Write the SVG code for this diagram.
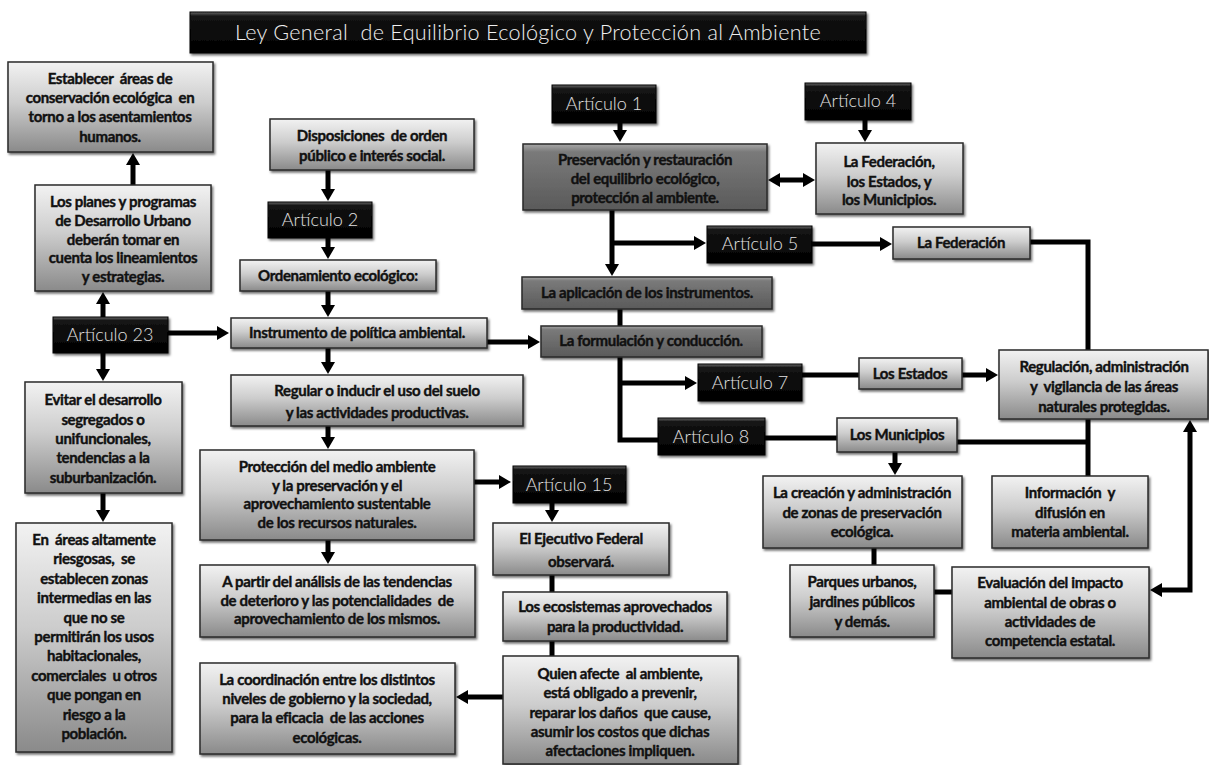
<svg xmlns="http://www.w3.org/2000/svg" width="1209" height="765" viewBox="0 0 1209 765">
<defs>
<linearGradient id="gL" x1="0" y1="0" x2="0" y2="1"><stop offset="0" stop-color="#f2f2f2"/><stop offset="0.45" stop-color="#cdcdcd"/><stop offset="1" stop-color="#8a8a8a"/></linearGradient>
<linearGradient id="gD" x1="0" y1="0" x2="0" y2="1"><stop offset="0" stop-color="#a8a8a8"/><stop offset="0.12" stop-color="#7a7a7a"/><stop offset="1" stop-color="#5a5a5a"/></linearGradient>
<linearGradient id="gB" x1="0" y1="0" x2="0" y2="1"><stop offset="0" stop-color="#6a6a6a"/><stop offset="0.1" stop-color="#141414"/><stop offset="1" stop-color="#000"/></linearGradient>
<filter id="sh" x="-10%" y="-10%" width="125%" height="130%"><feDropShadow dx="1.5" dy="2" stdDeviation="1.2" flood-color="#000" flood-opacity="0.55"/></filter>
<marker id="ar" viewBox="0 0 12 14" markerWidth="12" markerHeight="14" refX="1" refY="7" orient="auto-start-reverse" markerUnits="userSpaceOnUse"><path d="M0,0 L12,7 L0,14 z" fill="#000"/></marker>
<style>
.bx{fill:url(#gL);stroke:#2a2a2a;stroke-width:1.5;filter:url(#sh)}
.dk{fill:url(#gD);stroke:#2a2a2a;stroke-width:1.5;filter:url(#sh)}
.bk{fill:url(#gB);stroke:#000;stroke-width:1;filter:url(#sh)}
.t{font-family:Lato,"Open Sans",sans-serif;font-weight:700;font-size:15px;fill:#111;stroke:#111;stroke-width:0.4px;text-anchor:middle;letter-spacing:-0.35px;white-space:pre}
.a{font-family:Lato,"Open Sans",sans-serif;font-weight:300;font-size:18px;fill:#e0e0e0;text-anchor:middle}
.ti{font-family:Lato,"Open Sans",sans-serif;font-weight:300;font-size:21.6px;fill:#f0f0f0;text-anchor:middle;letter-spacing:0.3px;white-space:pre}
.c{fill:none;stroke:#000;stroke-width:5}
.c.m{marker-end:url(#ar)}
</style>
</defs>
<rect width="1209" height="765" fill="#fff"/>

<g id="connectors">
<path class="c m" d="M133,185 V164"/>
<path class="c m" d="M103,317 V303"/>
<path class="c m" d="M168,333 H218"/>
<path class="c m" d="M103,353 V370"/>
<path class="c m" d="M103,493 V511"/>
<path class="c m" d="M328,170 V190"/>
<path class="c m" d="M328,238 V248"/>
<path class="c m" d="M328,291 V306"/>
<path class="c m" d="M328,348 V363"/>
<path class="c m" d="M328,426 V438"/>
<path class="c m" d="M328,540 V553"/>
<path class="c m" d="M474,482 H500"/>
<path class="c m" d="M552,503 V511"/>
<path class="c" d="M552,575 V592"/>
<path class="c" d="M552,641 V656"/>
<path class="c m" d="M503,697 H467"/>
<path class="c m" d="M487,342 H529"/>
<path class="c m" d="M620,123 V131"/>
<path class="c m" d="M779,180 H804" marker-start="url(#ar)"/>
<path class="c m" d="M865,120 V131"/>
<path class="c m" d="M612,210 V265"/>
<path class="c m" d="M612,243 H695"/>
<path class="c m" d="M812,244 H881"/>
<path class="c" d="M1030,242 H1088 V350"/>
<path class="c" d="M620,309 V326"/>
<path class="c" d="M620,357 V440 H658"/>
<path class="c m" d="M620,383 H686"/>
<path class="c" d="M802,375 H859"/>
<path class="c m" d="M962,375 H987"/>
<path class="c" d="M765,438 H837"/>
<path class="c" d="M957,442 H1088"/>
<path class="c" d="M1088,419 V476"/>
<path class="c m" d="M895,452 V464"/>
<path class="c" d="M874,548 V565"/>
<path class="c" d="M934,592 H952"/>
<path class="c m" d="M1161,590 H1190 V431" marker-start="url(#ar)"/>
</g>

<g id="title"><rect class="bk" x="190" y="12" width="676" height="41"/><text class="ti" x="528" y="40">Ley General  de Equilibrio Ecológico y Protección al Ambiente</text></g>

<g id="n-establecer"><rect class="bx" x="8" y="62" width="205" height="90"/><text class="t"><tspan x="110" y="84">Establecer  áreas de</tspan><tspan x="110" y="103">conservación ecológica  en</tspan><tspan x="110" y="122">torno a los asentamientos</tspan><tspan x="110" y="142">humanos.</tspan></text></g>

<g id="n-planes"><rect class="bx" x="35" y="185" width="176" height="106"/><text class="t"><tspan x="123" y="207">Los planes y programas</tspan><tspan x="123" y="226">de Desarrollo Urbano</tspan><tspan x="123" y="245">deberán tomar en</tspan><tspan x="123" y="263">cuenta los lineamientos</tspan><tspan x="123" y="282">y estrategias.</tspan></text></g>

<g id="n-art23"><rect class="bk" x="53" y="317" width="115" height="36"/><text class="a" x="110" y="341">Artículo 23</text></g>

<g id="n-evitar"><rect class="bx" x="25" y="382" width="157" height="111"/><text class="t"><tspan x="103" y="405">Evitar el desarrollo</tspan><tspan x="103" y="425">segregados o</tspan><tspan x="103" y="444">unifuncionales,</tspan><tspan x="103" y="463">tendencias a la</tspan><tspan x="103" y="483">suburbanización.</tspan></text></g>

<g id="n-areas"><rect class="bx" x="16" y="523" width="156" height="229"/><text class="t"><tspan x="94" y="545">En  áreas altamente</tspan><tspan x="94" y="564">riesgosas,  se</tspan><tspan x="94" y="584">establecen zonas</tspan><tspan x="94" y="603">intermedias en las</tspan><tspan x="94" y="623">que no se</tspan><tspan x="94" y="642">permitirán los usos</tspan><tspan x="94" y="661">habitacionales,</tspan><tspan x="94" y="681">comerciales  u otros</tspan><tspan x="94" y="700">que pongan en</tspan><tspan x="94" y="720">riesgo a la</tspan><tspan x="94" y="739">población.</tspan></text></g>

<g id="n-disposiciones"><rect class="bx" x="270" y="119" width="204" height="51"/><text class="t"><tspan x="372" y="141">Disposiciones  de orden</tspan><tspan x="372" y="161">público e interés social.</tspan></text></g>

<g id="n-art2"><rect class="bk" x="268" y="202" width="104" height="36"/><text class="a" x="320" y="226">Artículo 2</text></g>

<g id="n-ordenamiento"><rect class="bx" x="240" y="260" width="196" height="31"/><text class="t" x="338" y="281">Ordenamiento ecológico:</text></g>

<g id="n-instrumento"><rect class="bx" x="231" y="318" width="256" height="30"/><text class="t" x="357" y="338">Instrumento de política ambiental.</text></g>

<g id="n-regular"><rect class="bx" x="231" y="375" width="292" height="51"/><text class="t"><tspan x="377" y="396">Regular o inducir el uso del suelo</tspan><tspan x="377" y="418">y las actividades productivas.</tspan></text></g>

<g id="n-proteccion"><rect class="bx" x="200" y="450" width="274" height="90"/><text class="t"><tspan x="337" y="472">Protección del medio ambiente</tspan><tspan x="337" y="491">y la preservación y el</tspan><tspan x="337" y="509">aprovechamiento sustentable</tspan><tspan x="337" y="528">de los recursos naturales.</tspan></text></g>

<g id="n-apartir"><rect class="bx" x="200" y="565" width="275" height="72"/><text class="t"><tspan x="337" y="587">A partir del análisis de las tendencias</tspan><tspan x="337" y="606">de deterioro y las potencialidades  de</tspan><tspan x="337" y="624">aprovechamiento de los mismos.</tspan></text></g>

<g id="n-coordinacion"><rect class="bx" x="200" y="663" width="255" height="91"/><text class="t"><tspan x="327" y="685">La coordinación entre los distintos</tspan><tspan x="327" y="704">niveles de gobierno y la sociedad,</tspan><tspan x="327" y="723">para la eficacia  de las acciones</tspan><tspan x="327" y="743">ecológicas.</tspan></text></g>

<g id="n-art15"><rect class="bk" x="513" y="466" width="113" height="37"/><text class="a" x="569" y="491">Artículo 15</text></g>

<g id="n-ejecutivo"><rect class="bx" x="493" y="523" width="176" height="52"/><text class="t"><tspan x="581" y="544">El Ejecutivo Federal</tspan><tspan x="581" y="567">observará.</tspan></text></g>

<g id="n-ecosistemas"><rect class="bx" x="503" y="592" width="224" height="49"/><text class="t"><tspan x="615" y="612">Los ecosistemas aprovechados</tspan><tspan x="615" y="632">para la productividad.</tspan></text></g>

<g id="n-quien"><rect class="bx" x="503" y="656" width="235" height="108"/><text class="t"><tspan x="620" y="679">Quien afecte  al ambiente,</tspan><tspan x="620" y="698">está obligado a prevenir,</tspan><tspan x="620" y="718">reparar los daños  que cause,</tspan><tspan x="620" y="737">asumir los costos que dichas</tspan><tspan x="620" y="756">afectaciones impliquen.</tspan></text></g>

<g id="n-art1"><rect class="bk" x="552" y="85" width="104" height="38"/><text class="a" x="604" y="110">Artículo 1</text></g>

<g id="n-preservacion"><rect class="dk" x="523" y="144" width="244" height="66"/><text class="t"><tspan x="645" y="165">Preservación y restauración</tspan><tspan x="645" y="184">del equilibrio ecológico,</tspan><tspan x="645" y="203">protección al ambiente.</tspan></text></g>

<g id="n-art4"><rect class="bk" x="805" y="83" width="106" height="37"/><text class="a" x="858" y="107">Artículo 4</text></g>

<g id="n-federacion-estados"><rect class="bx" x="816" y="143" width="147" height="71"/><text class="t"><tspan x="889" y="167">La Federación,</tspan><tspan x="889" y="187">los Estados, y</tspan><tspan x="889" y="205">los Municipios.</tspan></text></g>

<g id="n-art5"><rect class="bk" x="707" y="226" width="105" height="37"/><text class="a" x="760" y="250">Artículo 5</text></g>

<g id="n-federacion"><rect class="bx" x="893" y="227" width="137" height="32"/><text class="t" x="961" y="248">La Federación</text></g>

<g id="n-aplicacion"><rect class="dk" x="522" y="277" width="250" height="32"/><text class="t" x="647" y="298">La aplicación de los instrumentos.</text></g>

<g id="n-formulacion"><rect class="dk" x="541" y="326" width="221" height="31"/><text class="t" x="651" y="346">La formulación y conducción.</text></g>

<g id="n-art7"><rect class="bk" x="698" y="364" width="104" height="37"/><text class="a" x="750" y="389">Artículo 7</text></g>

<g id="n-estados"><rect class="bx" x="859" y="358" width="103" height="31"/><text class="t" x="910" y="379">Los Estados</text></g>

<g id="n-regulacion"><rect class="bx" x="999" y="350" width="209" height="69"/><text class="t"><tspan x="1104" y="372">Regulación, administración</tspan><tspan x="1104" y="392">y  vigilancia de las áreas</tspan><tspan x="1104" y="412">naturales protegidas.</tspan></text></g>

<g id="n-art8"><rect class="bk" x="658" y="418" width="107" height="37"/><text class="a" x="711" y="443">Artículo 8</text></g>

<g id="n-municipios"><rect class="bx" x="837" y="418" width="120" height="34"/><text class="t" x="897" y="440">Los Municipios</text></g>

<g id="n-creacion"><rect class="bx" x="763" y="476" width="199" height="72"/><text class="t"><tspan x="862" y="498">La creación y administración</tspan><tspan x="862" y="518">de zonas de preservación</tspan><tspan x="862" y="537">ecológica.</tspan></text></g>

<g id="n-informacion"><rect class="bx" x="992" y="476" width="156" height="72"/><text class="t"><tspan x="1070" y="498">Información  y</tspan><tspan x="1070" y="518">difusión en</tspan><tspan x="1070" y="537">materia ambiental.</tspan></text></g>

<g id="n-parques"><rect class="bx" x="790" y="565" width="144" height="72"/><text class="t"><tspan x="862" y="587">Parques urbanos,</tspan><tspan x="862" y="607">jardines públicos</tspan><tspan x="862" y="627">y demás.</tspan></text></g>

<g id="n-evaluacion"><rect class="bx" x="952" y="567" width="197" height="91"/><text class="t"><tspan x="1050" y="588">Evaluación del impacto</tspan><tspan x="1050" y="608">ambiental de obras o</tspan><tspan x="1050" y="627">actividades de</tspan><tspan x="1050" y="646">competencia estatal.</tspan></text></g>
</svg>
